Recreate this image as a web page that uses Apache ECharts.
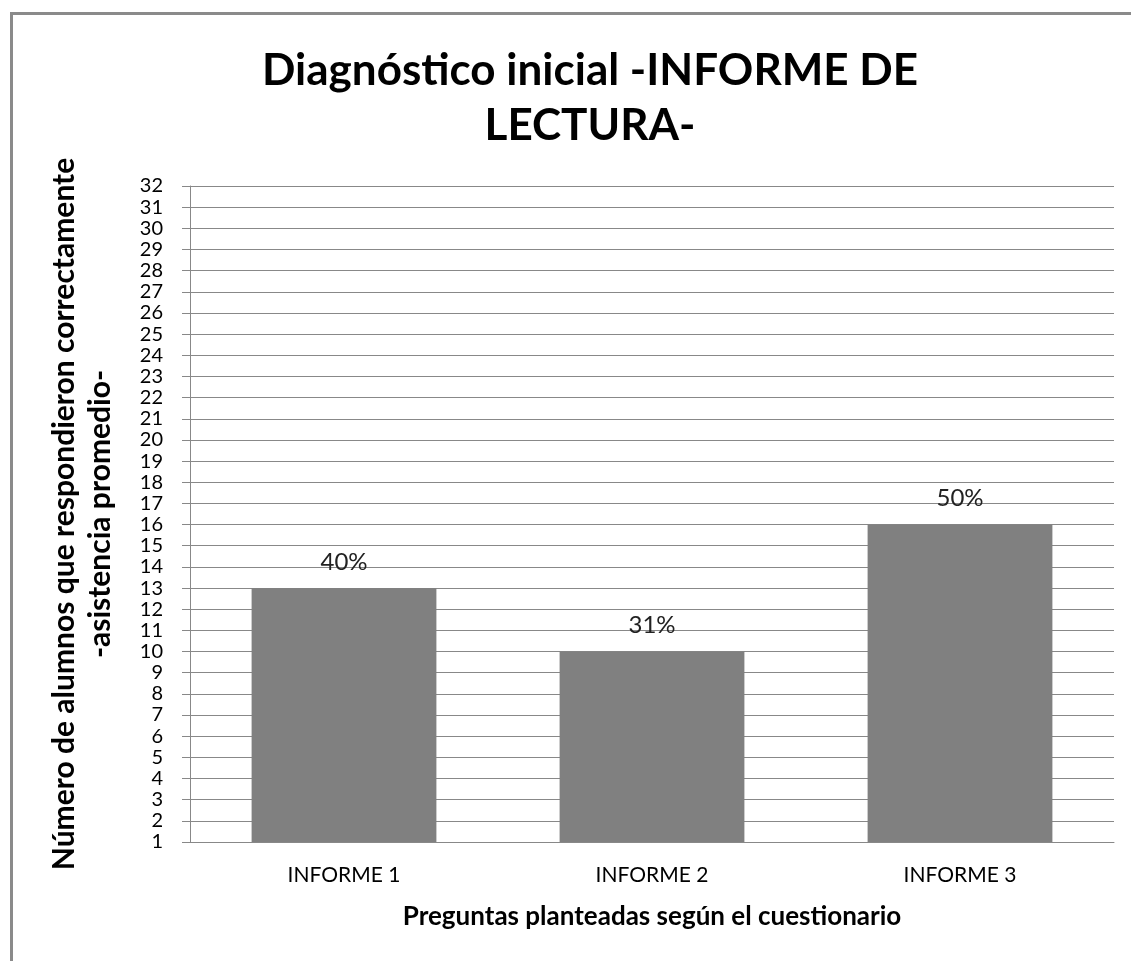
<!DOCTYPE html>
<html>
<head>
<meta charset="utf-8">
<script src="https://cdn.jsdelivr.net/npm/echarts@6/dist/echarts.min.js"></script>
<style>
  html, body { margin: 0; padding: 0; background: #fff; }
  #chart { width: 1131px; height: 961px; }
</style>
</head>
<body>
<div id="chart"></div>
<script>
const categories = ["INFORME 1", "INFORME 2", "INFORME 3"];
const alumnos = [13, 10, 16];
const percentLabels = ["40%", "31%", "50%"];
const yMin = 1;
const yMax = 32;

const chart = echarts.init(document.getElementById("chart"));
const font = "Lato, 'Open Sans', sans-serif";

chart.setOption({
  backgroundColor: "#fff",
  animation: false,
  textStyle: { fontFamily: font },
  title: {
    text: "Diagnóstico inicial -INFORME DE\nLECTURA-",
    left: 585,
    top: 38,
    textAlign: "center",
    textStyle: { fontSize: 44, fontWeight: "bold", color: "#000", lineHeight: 55, fontFamily: font }
  },
  graphic: [{
    type: "rect",
    left: 9,
    top: 11,
    shape: { width: 1200, height: 1000 },
    style: { fill: "none", stroke: "#8a8a8a", lineWidth: 3 },
    silent: true
  }],
  grid: { left: 190, right: 17, top: 186, bottom: 119, containLabel: false },
  xAxis: {
    type: "category",
    data: categories,
    name: "Preguntas planteadas según el cuestionario",
    nameLocation: "middle",
    nameGap: 62,
    nameTextStyle: { fontSize: 26, fontWeight: "bold", color: "#000", fontFamily: font },
    axisLine: { lineStyle: { color: "#888", width: 1 } },
    axisTick: { show: false },
    axisLabel: { fontSize: 21, color: "#000", margin: 23 }
  },
  yAxis: {
    type: "value",
    min: yMin,
    max: yMax,
    interval: 1,
    name: "Número de alumnos que respondieron correctamente\n-asistencia promedio-",
    nameLocation: "middle",
    nameRotate: 90,
    nameGap: 72,
    nameTextStyle: { fontSize: 30, fontWeight: "bold", color: "#000", lineHeight: 36, fontFamily: font },
    axisLine: { show: true, lineStyle: { color: "#888", width: 1 } },
    axisTick: { show: true, inside: false, length: 8, lineStyle: { color: "#888" } },
    axisLabel: { fontSize: 20, color: "#000", margin: 27, showMinLabel: true, showMaxLabel: true },
    splitLine: { lineStyle: { color: "#888", width: 1 } }
  },
  series: [{
    type: "bar",
    data: alumnos,
    barWidth: "60%",
    itemStyle: { color: "#808080" },
    label: {
      show: true,
      position: "top",
      distance: 14,
      fontSize: 24,
      color: "#222",
      formatter: p => percentLabels[p.dataIndex]
    }
  }]
});
</script>
</body>
</html>
